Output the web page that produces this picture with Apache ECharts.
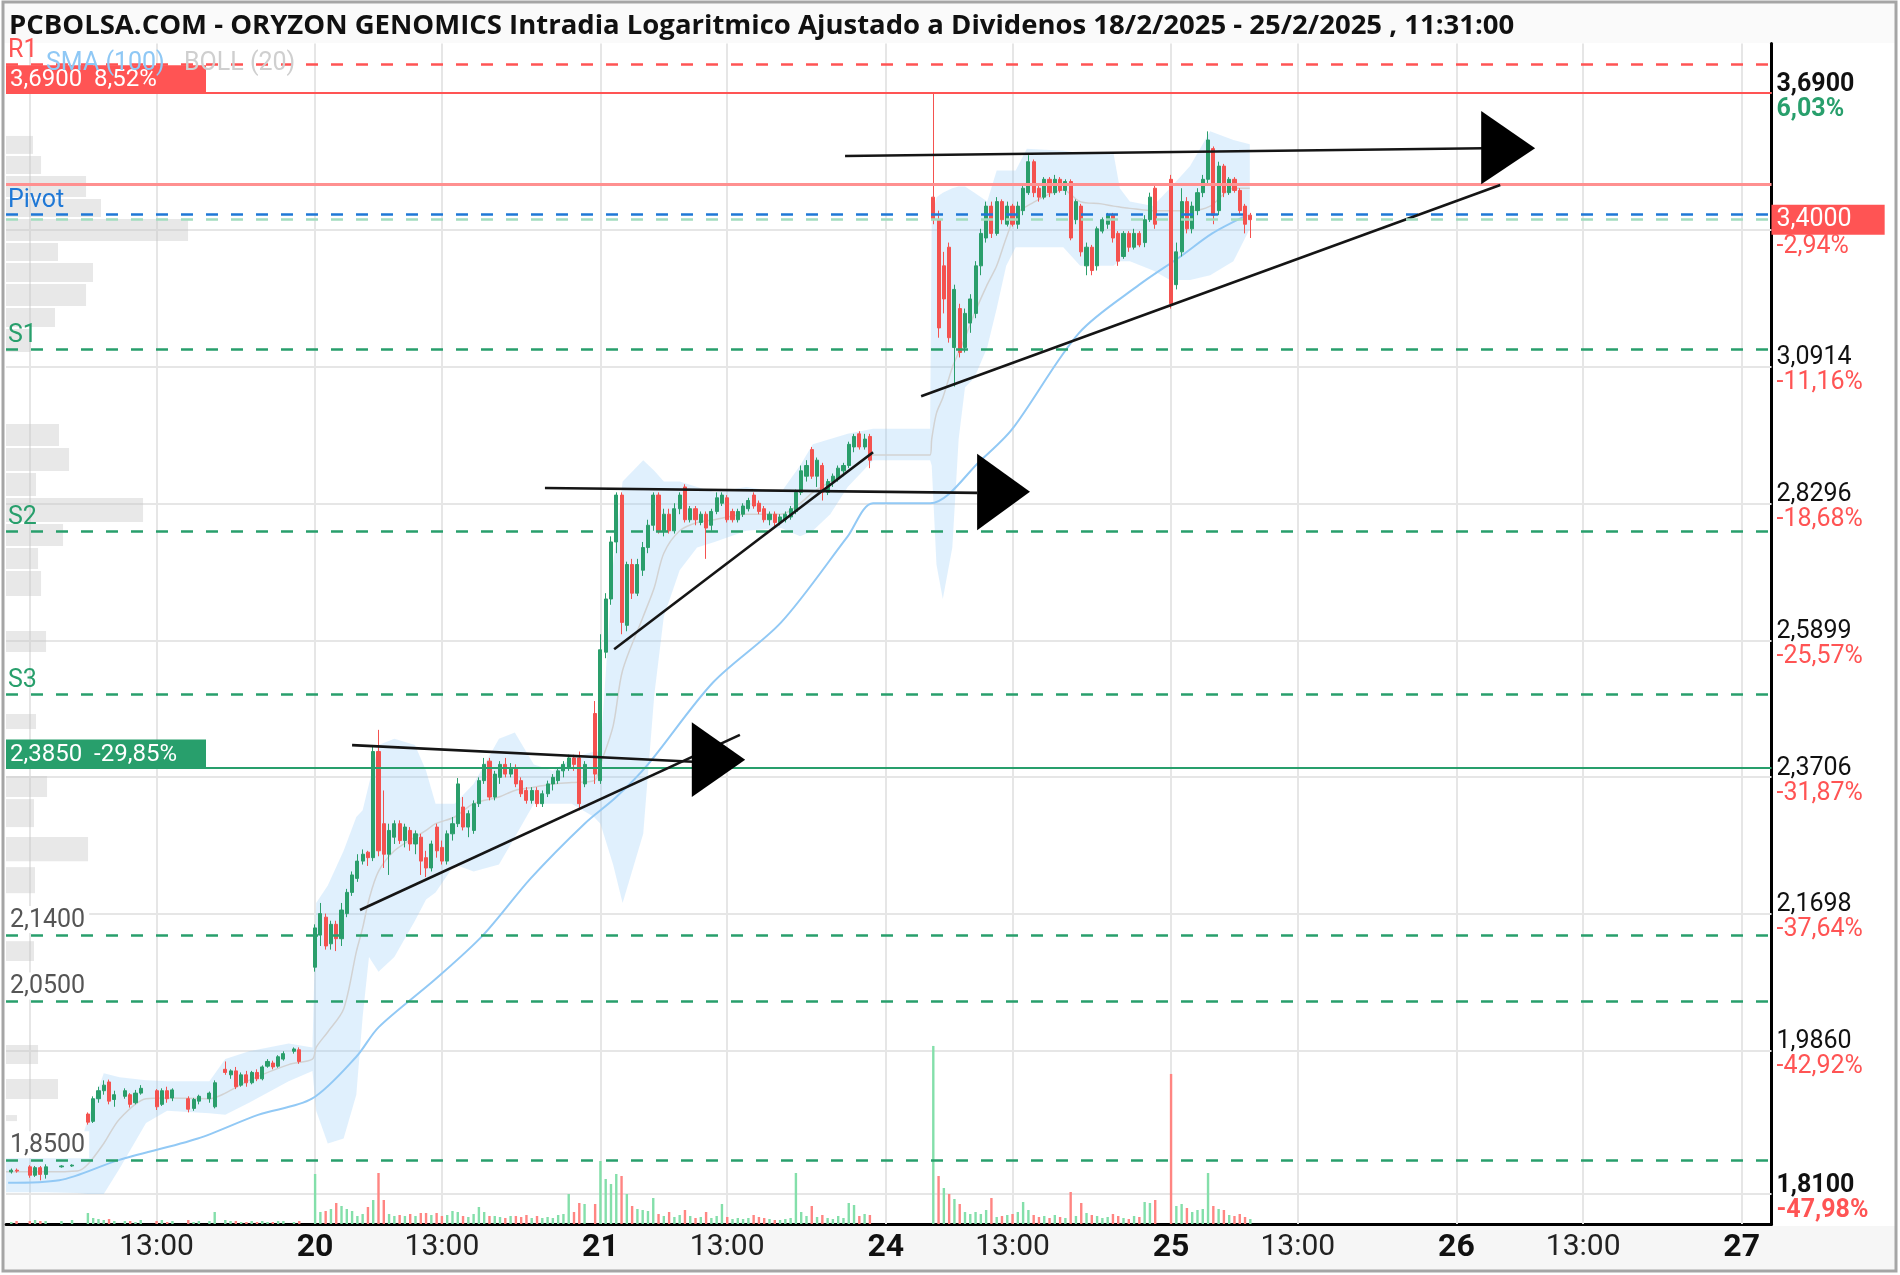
<!DOCTYPE html>
<html>
<head>
<meta charset="utf-8">
<script src="https://cdn.jsdelivr.net/npm/echarts/dist/echarts.min.js"></script>
<style>
  html, body { margin: 0; padding: 0; background: #fff; }
  #chart { width: 1900px; height: 1275px; }
</style>
</head>
<body>
<div id="chart"></div>
<script>
// ---- data ----
// candles: [time, open, close, low, high], one array per session
var day18 = [
  ['17:25', 1.836, 1.838, 1.834, 1.840],
  ['17:35', 1.838, 1.837, 1.835, 1.840]
];
var vol18 = [2, 3];
var day19 = [
  ['09:00', 1.842, 1.832, 1.829, 1.844], ['09:10', 1.832, 1.841, 1.830, 1.843],
  ['09:20', 1.841, 1.833, 1.826, 1.843], ['09:30', 1.833, 1.842, 1.828, 1.845],
  ['10:00', 1.842, 1.843, 1.841, 1.844], ['10:20', 1.843, 1.844, 1.842, 1.845],
  ['10:50', 1.906, 1.896, 1.893, 1.908], ['11:00', 1.897, 1.925, 1.895, 1.928],
  ['11:10', 1.925, 1.935, 1.920, 1.940], ['11:20', 1.935, 1.942, 1.930, 1.948],
  ['11:30', 1.946, 1.922, 1.918, 1.949], ['11:40', 1.924, 1.930, 1.915, 1.935],
  ['12:00', 1.928, 1.935, 1.925, 1.938], ['12:10', 1.930, 1.918, 1.914, 1.932],
  ['12:20', 1.920, 1.932, 1.918, 1.936], ['12:30', 1.932, 1.938, 1.930, 1.942],
  ['13:00', 1.935, 1.915, 1.911, 1.937], ['13:10', 1.918, 1.935, 1.916, 1.938],
  ['13:20', 1.935, 1.925, 1.920, 1.940], ['13:30', 1.926, 1.936, 1.922, 1.938],
  ['14:00', 1.925, 1.912, 1.908, 1.928], ['14:10', 1.913, 1.924, 1.910, 1.926],
  ['14:20', 1.922, 1.928, 1.918, 1.930], ['14:40', 1.925, 1.932, 1.920, 1.934],
  ['14:50', 1.915, 1.945, 1.913, 1.948], ['15:10', 1.962, 1.958, 1.955, 1.972],
  ['15:20', 1.955, 1.960, 1.950, 1.962], ['15:30', 1.960, 1.940, 1.937, 1.965],
  ['15:40', 1.942, 1.955, 1.940, 1.958], ['15:50', 1.955, 1.945, 1.940, 1.960],
  ['16:00', 1.945, 1.958, 1.943, 1.960], ['16:10', 1.958, 1.950, 1.947, 1.962],
  ['16:20', 1.950, 1.965, 1.948, 1.967], ['16:30', 1.966, 1.972, 1.964, 1.975],
  ['16:40', 1.970, 1.965, 1.962, 1.973], ['16:50', 1.966, 1.978, 1.964, 1.980],
  ['17:00', 1.975, 1.982, 1.973, 1.985], ['17:20', 1.985, 1.988, 1.982, 1.990],
  ['17:30', 1.987, 1.972, 1.969, 1.990]
];
var vol19 = [3, 4, 3, 3, 3, 4, 11, 6, 5, 4, 5, 3, 3, 3, 2, 4, 3, 4, 2, 3,
  4, 2, 3, 3, 12, 4, 3, 3, 2, 2, 3, 2, 3, 2, 2, 3, 3, 2, 3];
var day20 = [
  ['09:00', 2.096, 2.150, 2.090, 2.155], ['09:10', 2.140, 2.170, 2.125, 2.185],
  ['09:20', 2.165, 2.125, 2.120, 2.170], ['09:30', 2.128, 2.155, 2.120, 2.160],
  ['09:40', 2.155, 2.135, 2.118, 2.160], ['09:50', 2.135, 2.175, 2.125, 2.185],
  ['10:00', 2.170, 2.200, 2.165, 2.205], ['10:10', 2.200, 2.225, 2.195, 2.230],
  ['10:20', 2.220, 2.245, 2.215, 2.255], ['10:30', 2.245, 2.255, 2.240, 2.262],
  ['10:40', 2.258, 2.250, 2.238, 2.260], ['10:50', 2.250, 2.410, 2.245, 2.418],
  ['11:00', 2.410, 2.260, 2.252, 2.444], ['11:10', 2.300, 2.255, 2.235, 2.350],
  ['11:20', 2.255, 2.290, 2.225, 2.300], ['11:30', 2.280, 2.300, 2.270, 2.305],
  ['11:40', 2.300, 2.275, 2.270, 2.305], ['11:50', 2.275, 2.295, 2.265, 2.300],
  ['12:00', 2.290, 2.270, 2.260, 2.295], ['12:10', 2.270, 2.285, 2.255, 2.290],
  ['12:20', 2.280, 2.245, 2.225, 2.285], ['12:30', 2.250, 2.235, 2.222, 2.260],
  ['12:40', 2.235, 2.270, 2.230, 2.275], ['12:50', 2.295, 2.260, 2.250, 2.300],
  ['13:00', 2.265, 2.245, 2.240, 2.275], ['13:10', 2.245, 2.285, 2.240, 2.290],
  ['13:20', 2.285, 2.300, 2.275, 2.310], ['13:30', 2.300, 2.360, 2.295, 2.369],
  ['13:40', 2.325, 2.295, 2.290, 2.340], ['13:50', 2.295, 2.315, 2.280, 2.320],
  ['14:00', 2.290, 2.330, 2.285, 2.335], ['14:10', 2.330, 2.365, 2.325, 2.370],
  ['14:20', 2.365, 2.390, 2.360, 2.400], ['14:30', 2.395, 2.340, 2.335, 2.400],
  ['14:40', 2.340, 2.375, 2.335, 2.380], ['14:50', 2.370, 2.390, 2.360, 2.395],
  ['15:00', 2.390, 2.375, 2.370, 2.400], ['15:10', 2.375, 2.385, 2.370, 2.392],
  ['15:20', 2.385, 2.360, 2.355, 2.390], ['15:30', 2.365, 2.345, 2.340, 2.370],
  ['15:40', 2.350, 2.335, 2.330, 2.355], ['15:50', 2.335, 2.350, 2.330, 2.355],
  ['16:00', 2.350, 2.330, 2.325, 2.355], ['16:10', 2.330, 2.345, 2.325, 2.350],
  ['16:20', 2.345, 2.360, 2.340, 2.365], ['16:30', 2.360, 2.370, 2.350, 2.375],
  ['16:40', 2.365, 2.380, 2.360, 2.385], ['16:50', 2.380, 2.390, 2.370, 2.395],
  ['17:00', 2.385, 2.400, 2.380, 2.405], ['17:10', 2.400, 2.390, 2.380, 2.405],
  ['17:20', 2.400, 2.330, 2.320, 2.410], ['17:30', 2.360, 2.390, 2.355, 2.395],
  ['17:50', 2.470, 2.375, 2.360, 2.490]
];
var vol20 = [50, 12, 13, 15, 21, 18, 15, 13, 8, 10, 17, 24, 51, 24, 10, 8, 9, 8, 10, 8,
  11, 11, 9, 11, 8, 9, 13, 12, 8, 7, 10, 17, 12, 8, 8, 7, 6, 8, 8, 7,
  9, 6, 8, 6, 7, 6, 9, 10, 30, 12, 21, 20, 20];
var day21 = [
  ['09:00', 2.365, 2.574, 2.360, 2.600], ['09:10', 2.570, 2.660, 2.560, 2.670],
  ['09:20', 2.660, 2.760, 2.650, 2.770], ['09:30', 2.760, 2.845, 2.740, 2.850],
  ['09:40', 2.845, 2.620, 2.600, 2.850], ['09:50', 2.615, 2.720, 2.605, 2.725],
  ['10:00', 2.720, 2.670, 2.660, 2.730], ['10:10', 2.670, 2.720, 2.665, 2.730],
  ['10:20', 2.710, 2.750, 2.700, 2.760], ['10:30', 2.750, 2.790, 2.740, 2.800],
  ['10:40', 2.790, 2.845, 2.780, 2.850], ['10:50', 2.845, 2.780, 2.775, 2.850],
  ['11:00', 2.780, 2.810, 2.770, 2.820], ['11:10', 2.810, 2.780, 2.775, 2.820],
  ['11:20', 2.780, 2.820, 2.775, 2.830], ['11:30', 2.820, 2.845, 2.810, 2.850],
  ['11:40', 2.860, 2.800, 2.795, 2.865], ['11:50', 2.800, 2.820, 2.795, 2.825],
  ['12:00', 2.820, 2.800, 2.790, 2.825], ['12:10', 2.795, 2.810, 2.790, 2.815],
  ['12:20', 2.810, 2.785, 2.730, 2.815], ['12:30', 2.790, 2.815, 2.780, 2.820],
  ['12:40', 2.815, 2.840, 2.810, 2.850], ['12:50', 2.830, 2.845, 2.825, 2.850],
  ['13:00', 2.840, 2.800, 2.795, 2.845], ['13:10', 2.815, 2.800, 2.795, 2.820],
  ['13:20', 2.800, 2.815, 2.795, 2.820], ['13:30', 2.810, 2.825, 2.805, 2.830],
  ['13:40', 2.820, 2.835, 2.815, 2.840], ['13:50', 2.845, 2.825, 2.820, 2.850],
  ['14:00', 2.830, 2.815, 2.810, 2.835], ['14:10', 2.820, 2.800, 2.795, 2.825],
  ['14:20', 2.800, 2.810, 2.790, 2.815], ['14:30', 2.810, 2.795, 2.785, 2.815],
  ['14:40', 2.795, 2.805, 2.790, 2.810], ['14:50', 2.800, 2.810, 2.795, 2.815],
  ['15:00', 2.805, 2.820, 2.800, 2.825], ['15:10', 2.815, 2.850, 2.810, 2.855],
  ['15:20', 2.850, 2.890, 2.845, 2.900], ['15:30', 2.880, 2.900, 2.870, 2.910],
  ['15:40', 2.930, 2.880, 2.875, 2.935], ['15:50', 2.880, 2.910, 2.860, 2.915],
  ['16:00', 2.900, 2.850, 2.835, 2.905], ['16:10', 2.850, 2.870, 2.845, 2.875],
  ['16:20', 2.870, 2.880, 2.860, 2.885], ['16:30', 2.875, 2.895, 2.870, 2.900],
  ['16:40', 2.890, 2.900, 2.880, 2.905], ['16:50', 2.900, 2.940, 2.895, 2.945],
  ['17:00', 2.935, 2.955, 2.925, 2.960], ['17:10', 2.960, 2.935, 2.930, 2.965],
  ['17:20', 2.935, 2.950, 2.930, 2.960], ['17:30', 2.955, 2.910, 2.895, 2.960]
];
var vol21 = [63, 45, 40, 50, 48, 30, 18, 15, 14, 13, 26, 10, 8, 12, 7, 9, 14, 8, 6, 7,
  12, 6, 8, 20, 7, 5, 6, 5, 6, 9, 7, 6, 5, 4, 4, 5, 6, 51, 12, 8,
  18, 7, 9, 6, 5, 8, 6, 21, 19, 8, 10, 9];
var day24 = [
  ['10:30', 3.450, 3.400, 3.390, 3.690], ['10:40', 3.400, 3.170, 3.150, 3.420],
  ['10:50', 3.300, 3.230, 3.200, 3.330], ['11:00', 3.340, 3.150, 3.140, 3.350],
  ['11:10', 3.130, 3.250, 3.052, 3.260], ['11:20', 3.210, 3.120, 3.110, 3.220],
  ['11:30', 3.130, 3.200, 3.120, 3.210], ['11:40', 3.180, 3.230, 3.160, 3.240],
  ['11:50', 3.200, 3.300, 3.190, 3.310], ['12:00', 3.300, 3.370, 3.280, 3.380],
  ['12:10', 3.360, 3.430, 3.350, 3.440], ['12:20', 3.430, 3.370, 3.360, 3.440],
  ['12:30', 3.370, 3.440, 3.365, 3.450], ['12:40', 3.440, 3.400, 3.390, 3.445],
  ['12:50', 3.390, 3.430, 3.385, 3.440], ['13:00', 3.430, 3.390, 3.385, 3.435],
  ['13:10', 3.390, 3.430, 3.380, 3.440], ['13:20', 3.420, 3.470, 3.410, 3.475],
  ['13:30', 3.460, 3.530, 3.455, 3.545], ['13:40', 3.530, 3.460, 3.450, 3.535],
  ['13:50', 3.470, 3.450, 3.440, 3.480], ['14:00', 3.450, 3.490, 3.445, 3.495],
  ['14:10', 3.490, 3.460, 3.450, 3.495], ['14:20', 3.460, 3.490, 3.455, 3.500],
  ['14:30', 3.490, 3.465, 3.460, 3.495], ['14:40', 3.465, 3.485, 3.455, 3.490],
  ['14:50', 3.485, 3.360, 3.355, 3.490], ['15:00', 3.400, 3.440, 3.390, 3.445],
  ['15:10', 3.430, 3.330, 3.320, 3.435], ['15:20', 3.300, 3.340, 3.280, 3.350],
  ['15:30', 3.340, 3.290, 3.280, 3.345], ['15:40', 3.300, 3.380, 3.290, 3.385],
  ['15:50', 3.375, 3.400, 3.370, 3.405], ['16:00', 3.390, 3.410, 3.380, 3.415],
  ['16:10', 3.410, 3.360, 3.350, 3.415], ['16:20', 3.370, 3.310, 3.300, 3.375],
  ['16:30', 3.320, 3.370, 3.315, 3.375], ['16:40', 3.370, 3.340, 3.330, 3.375],
  ['16:50', 3.340, 3.370, 3.335, 3.380], ['17:00', 3.370, 3.345, 3.340, 3.375],
  ['17:10', 3.350, 3.400, 3.340, 3.410], ['17:20', 3.400, 3.450, 3.395, 3.460],
  ['17:30', 3.470, 3.390, 3.380, 3.480]
];
var vol24 = [178, 48, 36, 30, 25, 20, 12, 10, 12, 10, 14, 26, 7, 8, 9, 10, 12, 22, 14, 9,
  7, 8, 6, 9, 7, 6, 32, 8, 21, 11, 9, 8, 6, 7, 10, 8, 6, 5, 8, 7, 22, 21, 24];
var day25 = [
  ['09:00', 3.490, 3.220, 3.210, 3.500], ['09:10', 3.260, 3.330, 3.250, 3.350],
  ['09:20', 3.330, 3.440, 3.320, 3.470], ['09:30', 3.440, 3.380, 3.370, 3.450],
  ['09:40', 3.380, 3.430, 3.370, 3.440], ['09:50', 3.420, 3.460, 3.410, 3.470],
  ['10:00', 3.460, 3.490, 3.450, 3.500], ['10:10', 3.490, 3.580, 3.480, 3.600],
  ['10:20', 3.560, 3.410, 3.390, 3.565], ['10:30', 3.420, 3.520, 3.410, 3.530],
  ['10:40', 3.520, 3.460, 3.450, 3.525], ['10:50', 3.460, 3.490, 3.455, 3.495],
  ['11:00', 3.490, 3.465, 3.460, 3.495], ['11:10', 3.465, 3.420, 3.410, 3.470],
  ['11:20', 3.430, 3.390, 3.370, 3.435], ['11:30', 3.410, 3.400, 3.360, 3.415]
];
var vol25 = [150, 18, 20, 16, 12, 14, 15, 51, 18, 15, 14, 9, 8, 10, 7, 5];

// Bollinger (20): [day, time, upper, middle, lower]
var bollRows = [
  [18, '17:15', 1.855, 1.836, 1.812], [19, '09:30', 1.856, 1.836, 1.812],
  [19, '10:30', 1.857, 1.837, 1.811], [19, '10:50', 1.900, 1.845, 1.810],
  [19, '11:20', 1.957, 1.870, 1.810], [19, '11:50', 1.952, 1.900, 1.840],
  [19, '12:40', 1.948, 1.925, 1.895], [19, '13:20', 1.947, 1.926, 1.910],
  [19, '14:40', 1.947, 1.925, 1.907], [19, '15:10', 1.975, 1.932, 1.905],
  [19, '15:55', 1.985, 1.948, 1.920], [19, '17:10', 1.995, 1.968, 1.947],
  [19, '17:55', 1.990, 1.975, 1.960], [20, '09:02', 2.185, 1.990, 1.910],
  [20, '09:24', 2.210, 2.010, 1.870], [20, '09:54', 2.260, 2.040, 1.876],
  [20, '10:18', 2.310, 2.117, 1.930], [20, '10:30', 2.320, 2.150, 2.030],
  [20, '10:42', 2.360, 2.190, 2.110], [20, '11:00', 2.420, 2.230, 2.090],
  [20, '11:30', 2.430, 2.260, 2.110], [20, '12:09', 2.420, 2.280, 2.160],
  [20, '12:30', 2.380, 2.290, 2.190], [20, '12:48', 2.330, 2.300, 2.200],
  [20, '13:24', 2.330, 2.310, 2.240], [20, '14:00', 2.360, 2.330, 2.230],
  [20, '14:48', 2.430, 2.340, 2.240], [20, '15:18', 2.440, 2.350, 2.280],
  [20, '15:54', 2.390, 2.355, 2.330], [20, '16:30', 2.380, 2.360, 2.330],
  [20, '17:06', 2.400, 2.362, 2.330], [20, '17:48', 2.410, 2.365, 2.310],
  [21, '09:00', 2.410, 2.390, 2.300], [21, '09:24', 2.720, 2.450, 2.240],
  [21, '09:42', 2.870, 2.540, 2.185], [21, '10:21', 2.910, 2.630, 2.285],
  [21, '10:42', 2.890, 2.680, 2.500], [21, '11:00', 2.870, 2.740, 2.630],
  [21, '11:30', 2.870, 2.780, 2.710], [21, '12:03', 2.860, 2.795, 2.750],
  [21, '12:36', 2.850, 2.800, 2.760], [21, '13:36', 2.860, 2.810, 2.780],
  [21, '14:42', 2.850, 2.810, 2.785], [21, '15:18', 2.900, 2.830, 2.770],
  [21, '15:42', 2.940, 2.850, 2.780], [21, '16:15', 2.950, 2.870, 2.810],
  [21, '16:48', 2.960, 2.890, 2.860], [21, '17:36', 2.970, 2.920, 2.910],
  [24, '10:24', 2.970, 2.920, 2.910], [24, '10:27', 3.400, 2.950, 2.900],
  [24, '10:36', 3.450, 3.000, 2.720], [24, '10:48', 3.460, 3.030, 2.660],
  [24, '11:06', 3.470, 3.090, 2.750], [24, '11:18', 3.474, 3.120, 2.950],
  [24, '11:30', 3.474, 3.150, 3.050], [24, '11:48', 3.460, 3.200, 3.070],
  [24, '12:12', 3.440, 3.260, 3.130], [24, '12:30', 3.510, 3.300, 3.210],
  [24, '12:48', 3.510, 3.360, 3.300], [24, '13:06', 3.510, 3.410, 3.340],
  [24, '13:27', 3.560, 3.430, 3.340], [24, '14:36', 3.555, 3.466, 3.340],
  [24, '15:08', 3.550, 3.440, 3.300], [24, '15:48', 3.550, 3.435, 3.300],
  [24, '16:11', 3.550, 3.430, 3.300], [24, '16:23', 3.470, 3.428, 3.310],
  [24, '16:42', 3.440, 3.425, 3.310], [24, '17:26', 3.430, 3.420, 3.290],
  [24, '17:58', 3.470, 3.420, 3.270], [25, '09:36', 3.520, 3.420, 3.270],
  [25, '10:14', 3.600, 3.430, 3.280], [25, '10:58', 3.580, 3.470, 3.310],
  [25, '11:29', 3.570, 3.470, 3.380]
];

// SMA (100): [day, time, value]
var smaRows = [
  [18, '17:19', 1.823], [19, '09:56', 1.826], [19, '11:48', 1.850], [19, '14:18', 1.876],
  [19, '16:12', 1.905], [19, '17:54', 1.925], [20, '10:18', 1.978], [20, '11:00', 2.016],
  [20, '12:48', 2.080], [20, '14:18', 2.140], [20, '15:48', 2.220], [20, '17:30', 2.300],
  [21, '09:30', 2.340], [21, '10:30', 2.390], [21, '12:33', 2.520], [21, '14:42', 2.620],
  [21, '16:48', 2.770], [21, '17:36', 2.830], [24, '10:24', 2.830], [24, '12:00', 2.910],
  [24, '13:00', 2.970], [24, '15:06', 3.160], [24, '17:00', 3.260], [25, '09:18', 3.320],
  [25, '10:18', 3.370], [25, '11:24', 3.410]
];

// volume by price on the left: [low, high, volume]
var profile = [
  [3.5455, 3.5917, 27], [3.4999, 3.5455, 35], [3.4482, 3.4999, 80], [3.4039, 3.4482, 95],
  [3.3514, 3.4039, 182], [3.3083, 3.3514, 52], [3.2636, 3.3083, 87], [3.2133, 3.2636, 80],
  [3.1699, 3.2133, 49], [3.1190, 3.1699, 25], [2.9349, 2.9809, 53], [2.8878, 2.9349, 63],
  [2.8415, 2.8878, 30], [2.7941, 2.8415, 137], [2.7510, 2.7941, 57], [2.7104, 2.7510, 32],
  [2.6634, 2.7104, 35], [2.5686, 2.6072, 40], [2.4437, 2.4708, 30], [2.3384, 2.3735, 41],
  [2.2935, 2.3384, 28], [2.2435, 2.2816, 82], [2.1975, 2.2377, 29], [2.1031, 2.1330, 28],
  [1.9674, 1.9943, 32], [1.9233, 1.9509, 52], [1.8961, 1.9060, 11]
];

// hand-drawn triangles: [day, time, price, day, time, price]
var trendLines = [
  [20, '10:10', 2.420, 21, '11:55', 2.394],
  [20, '10:25', 2.175, 21, '13:24', 2.436],
  [20, '16:15', 2.858, 24, '11:53', 2.849],
  [21, '09:26', 2.575, 21, '17:36', 2.925],
  [21, '16:43', 3.543, 26, '09:52', 3.561],
  [24, '10:07', 3.033, 26, '10:23', 3.477]
];
var arrowHeads = [
  [21, '11:53', 2.456, 21, '11:53', 2.340, 21, '13:34', 2.397],
  [24, '11:53', 2.922, 24, '11:53', 2.781, 24, '13:33', 2.851],
  [26, '09:47', 3.648, 26, '09:47', 3.479, 26, '11:29', 3.561]
];

// levels
var pivots = [['R1', 3.76], ['Pivot', 3.412], ['S1', 3.127], ['S2', 2.78], ['S3', 2.501]];
var priceMarks = [2.14, 2.05, 1.85];
var sessionHigh = [3.69, '8,52%'];
var refClose = 3.48;
var alertLevel = [2.385, '-29,85%'];
var lastPrice = 3.40;

// axis ticks (the 3,3774 tick sits under the last price box)
var yTicks = [3.69, 3.3774, 3.0914, 2.8296, 2.5899, 2.3706, 2.1698, 1.986, 1.81];
var yPcts = ['6,03%', '-2,94%', '-11,16%', '-18,68%', '-25,57%', '-31,87%', '-37,64%', '-42,92%', '-47,98%'];
var xTicks = [
  [19, '09:00', ''], [19, '13:00', '13:00'], [20, '09:00', '20'], [20, '13:00', '13:00'],
  [21, '09:00', '21'], [21, '13:00', '13:00'], [24, '09:00', '24'], [24, '13:00', '13:00'],
  [25, '09:00', '25'], [25, '13:00', '13:00'], [26, '09:00', '26'], [26, '13:00', '13:00'],
  [27, '09:00', '27']
];
var priceRange = [1.7751, 3.8104];
var timeRange = [-0.75, 54.94];

// ---- helpers ----
var dayIndex = { 18: -1, 19: 0, 20: 1, 21: 2, 24: 3, 25: 4, 26: 5, 27: 6 };
var SLOT = 9; // each session takes 9 hours of axis
function toX(day, hm) {
  var p = hm.split(':').map(Number);
  return dayIndex[day] * SLOT + (p[0] - 9) + p[1] / 60;
}
var ln = Math.log;
function fmt(v) { return v.toFixed(4).replace('.', ','); }

var UP = '#2a9e6b', DOWN = '#f4524f', VOL_UP = '#84dfaa', VOL_DOWN = '#ff8582';
var GREEN = '#289f6c', RED = '#ff5454', BLUE = '#1f78d6', GRID = '#e6e6e6';
var FONT = 'Roboto';

var candleData = [], volumeData = [];
var prev = null;
[[18, day18, vol18], [19, day19, vol19], [20, day20, vol20], [21, day21, vol21],
 [24, day24, vol24], [25, day25, vol25]].forEach(function (s) {
  s[1].forEach(function (r, i) {
    var x = toX(s[0], r[0]);
    candleData.push([x, ln(r[1]), ln(r[2]), ln(r[3]), ln(r[4])]);
    var up = prev == null ? r[2] >= r[1] : r[2] >= prev;
    volumeData.push({ value: [x, s[2][i]], itemStyle: { color: up ? VOL_UP : VOL_DOWN } });
    prev = r[2];
  });
});

var midData = bollRows.map(function (r) { return [toX(r[0], r[1]), ln(r[3])]; });
var smaData = smaRows.map(function (r) { return [toX(r[0], r[1]), ln(r[2])]; });

// gridlines + axis labels as mark lines
var tickLines = yTicks.map(function (v, i) {
  var strong = i === 0 || i === yTicks.length - 1;
  var pctStyle = yPcts[i].charAt(0) === '-' ? (strong ? 'rb' : 'r') : 'g';
  var hidden = Math.abs(ln(v) - ln(lastPrice)) < 0.02;
  var num = hidden ? '{p| }' : '{' + (strong ? 'pb' : 'p') + '|' + fmt(v) + '}';
  return { yAxis: ln(v), label: { padding: [8, 0, 0, 0], formatter: num + '\n{' + pctStyle + '|' + yPcts[i] + '}' } };
}).concat(xTicks.map(function (t) {
  var isDay = t[2].indexOf(':') < 0;
  return {
    xAxis: toX(t[0], t[1]),
    label: { position: 'start', distance: 8, formatter: t[2] ? '{' + (isDay ? 'd' : 't') + '|' + t[2] + '}' : '' }
  };
}));

var levelLines = [];
pivots.forEach(function (p) {
  var col = p[0].charAt(0) === 'R' ? RED : (p[0] === 'Pivot' ? BLUE : GREEN);
  levelLines.push({
    yAxis: ln(p[1]),
    lineStyle: { color: col, type: [12, 13], width: 2.5 },
    label: { show: true, position: 'insideStartTop', formatter: p[0], color: col, fontSize: 25, fontFamily: FONT, distance: [2, 1] }
  });
});
priceMarks.forEach(function (v) {
  levelLines.push({
    yAxis: ln(v),
    lineStyle: { color: GREEN, type: [12, 13], width: 2.5 },
    label: { show: true, position: 'insideStartTop', formatter: fmt(v), color: '#555', backgroundColor: '#fff',
      padding: [2, 4, 0, 4], fontSize: 25, fontFamily: FONT, distance: [0, 2] }
  });
});
levelLines.push({
  yAxis: ln(sessionHigh[0]),
  lineStyle: { color: RED, type: 'solid', width: 2 },
  label: { show: true, position: 'insideStartTop', formatter: fmt(sessionHigh[0]) + '  ' + sessionHigh[1],
    color: '#fff', backgroundColor: RED, width: 190, padding: [3, 6, 1, 4], fontSize: 24, fontFamily: FONT, distance: [0, 0] }
});
levelLines.push({
  yAxis: ln(refClose),
  lineStyle: { color: '#ff9090', type: 'solid', width: 3 },
  label: { show: false }
});
levelLines.push({
  yAxis: ln(alertLevel[0]),
  lineStyle: { color: GREEN, type: 'solid', width: 2 },
  label: { show: true, position: 'insideStartTop', formatter: fmt(alertLevel[0]) + '  ' + alertLevel[1],
    color: '#fff', backgroundColor: GREEN, width: 190, padding: [3, 6, 1, 4], fontSize: 24, fontFamily: FONT, distance: [0, 0] }
});

var myChart = echarts.init(document.getElementById('chart'));
myChart.setOption({
  animation: false,
  backgroundColor: '#fff',
  title: {
    text: 'PCBOLSA.COM - ORYZON GENOMICS Intradia Logaritmico Ajustado a Dividenos 18/2/2025 - 25/2/2025 , 11:31:00',
    left: 9, top: 12, padding: 0,
    textStyle: { fontSize: 27.5, fontWeight: 'bold', fontFamily: 'Open Sans', color: '#111' }
  },
  grid: { left: 6, right: 128.5, top: 43.6, bottom: 51 },
  xAxis: [
    { type: 'value', min: timeRange[0], max: timeRange[1], axisLine: { show: true, onZero: false, lineStyle: { color: '#000', width: 3 } },
      axisTick: { show: false }, axisLabel: { show: false }, splitLine: { show: false } },
    { type: 'value', min: 0, max: 1765, show: false }
  ],
  yAxis: [
    { type: 'value', position: 'right', min: ln(priceRange[0]), max: ln(priceRange[1]),
      axisLine: { show: true, onZero: false, lineStyle: { color: '#000', width: 3 } },
      axisTick: { show: false }, axisLabel: { show: false }, splitLine: { show: false } },
    { type: 'value', min: 0, max: 1180, show: false }
  ],
  graphic: [
    { type: 'rect', z: -1, silent: true, shape: { x: 4, y: 3, width: 1892, height: 40 }, style: { fill: '#fafafa' } },
    { type: 'rect', z: -1, silent: true, shape: { x: 4, y: 1226, width: 1892, height: 45 }, style: { fill: '#f6f6f6' } },
    { type: 'rect', z: 100, silent: true, shape: { x: 3, y: 2, width: 1893, height: 1269 }, style: { fill: 'none', stroke: '#a5a5a5', lineWidth: 3 } },
    { type: 'text', z: 50, silent: true, x: 46, y: 64, style: { text: 'SMA (100)', fill: '#8fc8f5', fontSize: 25, fontFamily: FONT, verticalAlign: 'middle' } },
    { type: 'text', z: 50, silent: true, x: 184, y: 64, style: { text: 'BOLL (20)', fill: '#cfcfcf', fontSize: 25, fontFamily: FONT, verticalAlign: 'middle' } }
  ],
  series: [
    { // gridlines and axis labels
      type: 'line', data: [], silent: true,
      markLine: {
        silent: true, symbol: ['none', 'none'], z: 1, precision: 10,
        lineStyle: { color: GRID, width: 2, type: 'solid' },
        label: {
          show: true, position: 'end', distance: 5,
          rich: {
            p: { fontSize: 25, fontFamily: FONT, color: '#111', lineHeight: 25 },
            pb: { fontSize: 25, fontFamily: FONT, color: '#111', fontWeight: 'bold', lineHeight: 25 },
            g: { fontSize: 25, fontFamily: FONT, color: GREEN, fontWeight: 'bold', lineHeight: 25 },
            r: { fontSize: 25, fontFamily: FONT, color: RED, lineHeight: 25 },
            rb: { fontSize: 25, fontFamily: FONT, color: RED, fontWeight: 'bold', lineHeight: 25 },
            t: { fontSize: 30, fontFamily: "'Liberation Sans Narrow', Roboto", color: '#222' },
            d: { fontSize: 32, fontFamily: "'Liberation Sans Narrow', Roboto", color: '#111', fontWeight: 'bold' }
          }
        },
        data: tickLines
      }
    },
    { // bollinger band
      type: 'custom', z: 1, silent: true, data: [[0, 1]], encode: { x: 0, y: 1 },
      renderItem: function (params, api) {
        var up = bollRows.map(function (r) { return api.coord([toX(r[0], r[1]), ln(r[2])]); });
        var lo = bollRows.map(function (r) { return api.coord([toX(r[0], r[1]), ln(r[4])]); }).reverse();
        return { type: 'polygon', shape: { points: up.concat(lo) }, style: { fill: 'rgba(144,202,249,0.28)' } };
      }
    },
    { // volume profile
      type: 'custom', z: 1, silent: true, xAxisIndex: 1, yAxisIndex: 0,
      data: profile.map(function (r) { return [ln(r[0]), ln(r[1]), r[2]]; }),
      encode: { x: 2, y: [0, 1] },
      renderItem: function (params, api) {
        var a = api.coord([0, api.value(1)]);
        var b = api.coord([api.value(2), api.value(0)]);
        return { type: 'rect', shape: { x: a[0], y: a[1] + 1, width: b[0] - a[0], height: b[1] - a[1] - 2 },
          style: { fill: 'rgba(200,200,200,0.42)' } };
      }
    },
    { type: 'line', name: 'BOLL', z: 2, silent: true, data: midData, showSymbol: false, smooth: 0.3,
      lineStyle: { color: '#d2d2d2', width: 1.5 } },
    { type: 'line', name: 'SMA', z: 2, silent: true, data: smaData, showSymbol: false, smooth: 0.3,
      lineStyle: { color: '#92c9f5', width: 2 } },
    { type: 'bar', z: 2, silent: true, xAxisIndex: 0, yAxisIndex: 1, barWidth: 2.4, data: volumeData },
    { type: 'candlestick', z: 3, silent: true, data: candleData, barWidth: 3.6,
      itemStyle: { color: UP, color0: DOWN, borderColor: UP, borderColor0: DOWN, borderColorDoji: DOWN, borderWidth: 1 } },
    { // levels
      type: 'line', data: [], silent: true,
      markLine: { silent: true, symbol: ['none', 'none'], z: 4, precision: 10, data: levelLines }
    },
    { // trend lines
      type: 'custom', z: 5, silent: true,
      data: trendLines.map(function (t) { return [toX(t[0], t[1]), ln(t[2]), toX(t[3], t[4]), ln(t[5])]; }),
      encode: { x: [0, 2], y: [1, 3] },
      renderItem: function (params, api) {
        var a = api.coord([api.value(0), api.value(1)]);
        var b = api.coord([api.value(2), api.value(3)]);
        return { type: 'line', shape: { x1: a[0], y1: a[1], x2: b[0], y2: b[1] }, style: { stroke: '#151515', lineWidth: 2.6 } };
      }
    },
    { // arrow heads
      type: 'custom', z: 5, silent: true,
      data: arrowHeads.map(function (t) { return [toX(t[0], t[1]), ln(t[2]), toX(t[3], t[4]), ln(t[5]), toX(t[6], t[7]), ln(t[8])]; }),
      encode: { x: [0, 2, 4], y: [1, 3, 5] },
      renderItem: function (params, api) {
        var pts = [0, 2, 4].map(function (k) { return api.coord([api.value(k), api.value(k + 1)]); });
        return { type: 'polygon', shape: { points: pts }, style: { fill: '#000' } };
      }
    },
    { // last price
      type: 'line', data: [], silent: true,
      markLine: {
        silent: true, symbol: ['none', 'none'], z: 8, precision: 10,
        data: [{
          yAxis: ln(lastPrice),
          lineStyle: { color: '#a3dcbf', type: [12, 13], width: 2.5 },
          label: { show: true, position: 'end', distance: 0, formatter: fmt(lastPrice), color: '#fff',
            backgroundColor: RED, padding: [3, 33, 2, 5], fontSize: 25, fontFamily: FONT }
        }]
      }
    }
  ]
});
</script>
</body>
</html>
